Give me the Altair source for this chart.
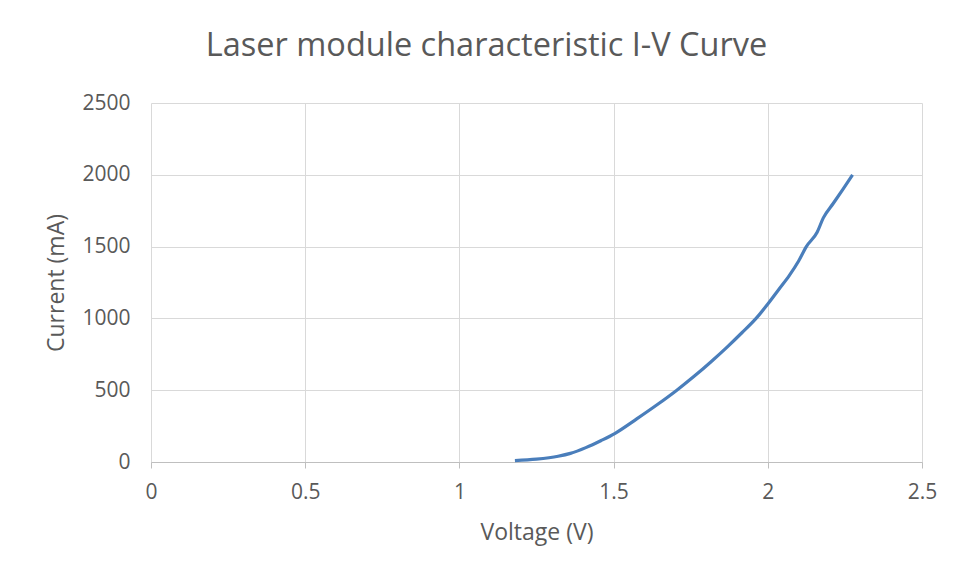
import altair as alt
import pandas as pd

voltage = [1.18, 1.25, 1.32, 1.36, 1.41, 1.46, 1.505, 1.575, 1.642, 1.705, 1.763, 1.817,
           1.868, 1.916, 1.962, 2.0, 2.035, 2.07, 2.10, 2.125, 2.16, 2.18, 2.212, 2.244, 2.275]
current = [10, 20, 40, 60, 100, 150, 200, 300, 400, 500, 600, 700,
           800, 900, 1000, 1100, 1200, 1300, 1400, 1500, 1600, 1700, 1800, 1900, 2000]

df = pd.DataFrame({"Voltage": voltage, "Current": current})

FONT = "Open Sans"
GREY = "#595959"

chart = alt.Chart(df).mark_line(
    color="#4A7EBB", strokeWidth=3.2, interpolate="monotone"
).encode(
    x=alt.X("Voltage:Q", scale=alt.Scale(domain=[0, 2.5], nice=False),
            axis=alt.Axis(title="Voltage (V)", values=[0, 0.5, 1, 1.5, 2, 2.5],
                          format="~g", tickSize=6, tickColor="#bfbfbf",
                          domainColor="#bfbfbf", labelPadding=13, labelFlush=False,
                          titlePadding=19)),
    y=alt.Y("Current:Q", scale=alt.Scale(domain=[0, 2500], nice=False),
            axis=alt.Axis(title="Current (mA)", values=[0, 500, 1000, 1500, 2000, 2500],
                          format="d", ticks=False, domain=False, labelPadding=21,
                          labelFlush=False, titlePadding=13)),
).properties(
    width=771, height=359,
    title=alt.TitleParams("Laser module characteristic I-V Curve", fontSize=32.5,
                          font=FONT, color=GREY, fontWeight="normal",
                          offset=30, dx=-50),
    autosize=alt.AutoSizeParams(type="none"),
    padding={"left": 143, "top": 95, "right": 20, "bottom": 100},
).configure_view(stroke=None).configure_axis(
    gridColor="#d9d9d9", gridWidth=1, labelFont=FONT, titleFont=FONT,
    labelColor=GREY, titleColor=GREY, labelFontSize=21, titleFontSize=23,
    titleFontWeight="normal"
)

chart.save("out.html", embed_options={"renderer": "svg", "actions": False})
